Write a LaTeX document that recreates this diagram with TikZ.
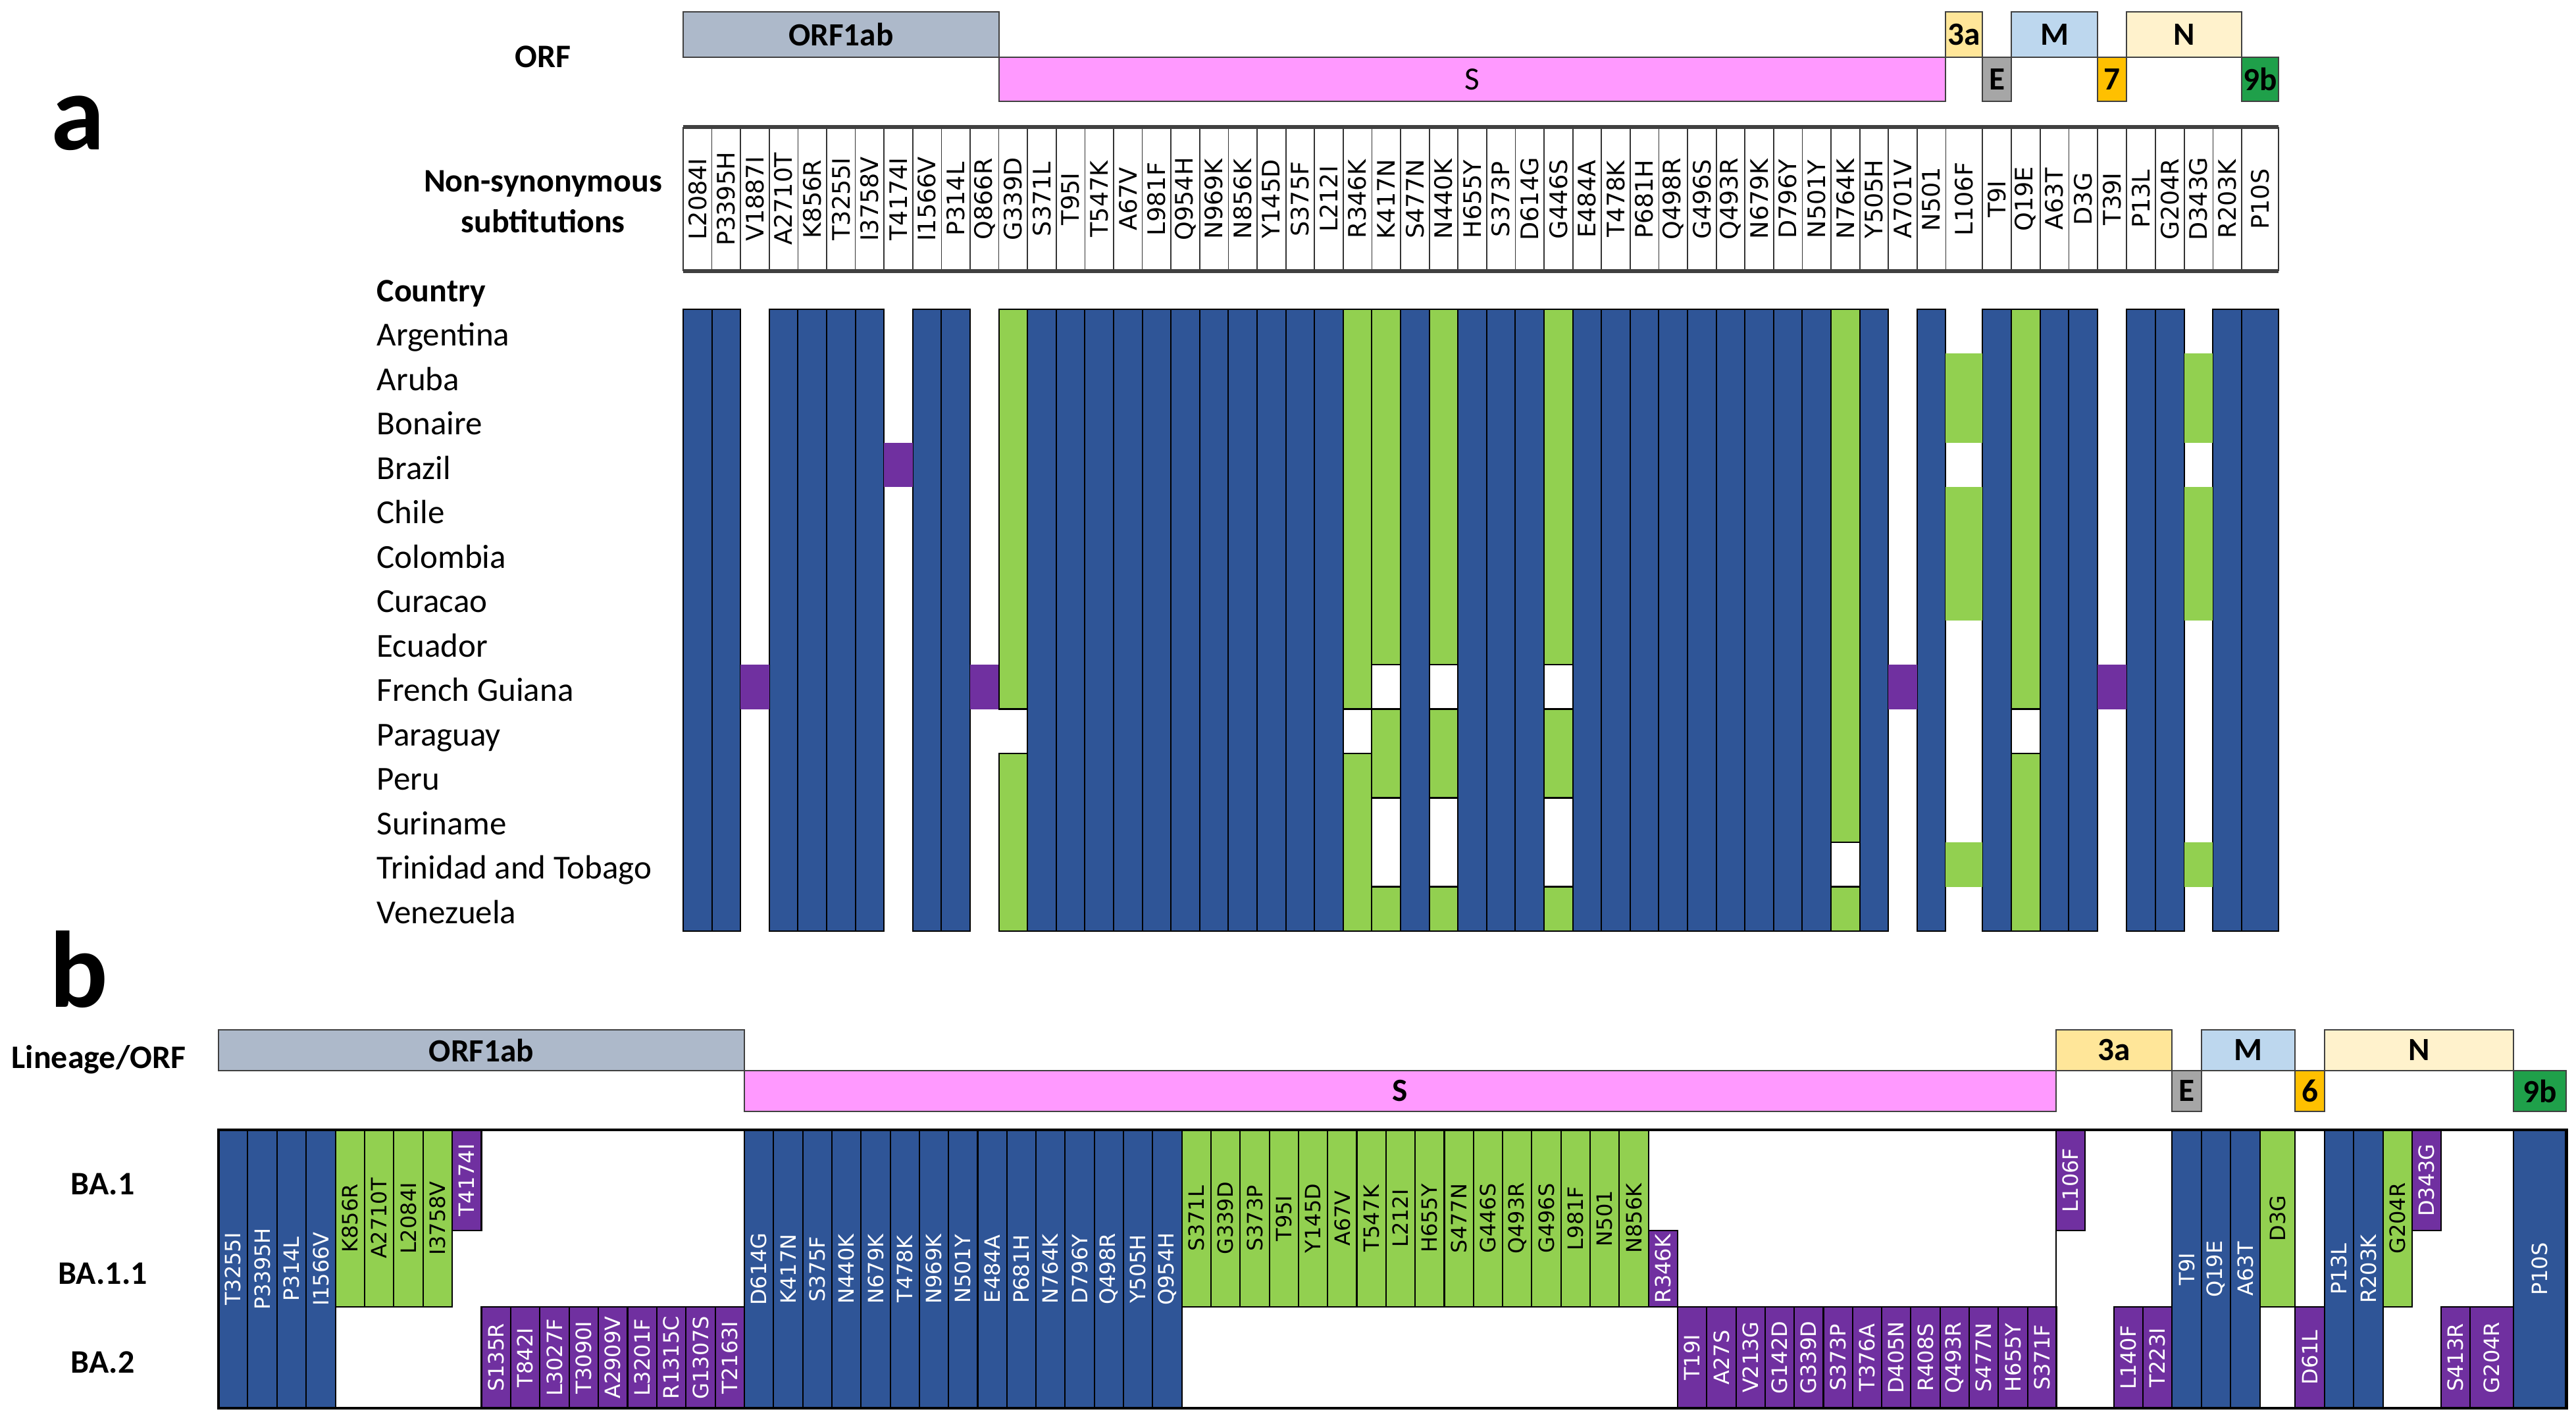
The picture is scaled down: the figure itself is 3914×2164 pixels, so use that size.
\documentclass[tikz,border=0pt]{standalone}
\usepackage{fontspec}
\setmainfont{Carlito}
\newfontfamily\dvs{DejaVu Sans}
\definecolor{cblue}{HTML}{2F5597}
\definecolor{cgreen}{HTML}{92D050}
\definecolor{cpurple}{HTML}{7030A0}
\definecolor{corf}{HTML}{ADB9CA}
\definecolor{cs}{HTML}{FF99FF}
\definecolor{cthree}{HTML}{FFE699}
\definecolor{ce}{HTML}{A6A6A6}
\definecolor{cm}{HTML}{BDD7EE}
\definecolor{cseven}{HTML}{FFC000}
\definecolor{cn}{HTML}{FFF2CC}
\definecolor{cnine}{HTML}{1FA04A}
\newcommand\myfs[1]{\fontsize{#1}{#1}\selectfont}
\newcommand\colxa[1]{%
  \pgfmathsetmacro\xl{ifthenelse(#1<=45, 1038+43.6*(#1-1), 3012+43.8*(#1-46))}%
  \pgfmathsetmacro\xr{ifthenelse(#1<=44, 1038+43.6*#1, ifthenelse(#1==45, 3012, ifthenelse(#1<=54, 3012+43.8*(#1-45), 3462)))}%
}
\newcommand\orfbox[7]{%
  \draw[barline, fill=#5] (#1,#2) rectangle (#3,#4);
  \node[bartext] (#6) at ({(#1+#3)/2},{(#2+#4)/2}) {#7};}
\newcommand\cellb[7]{%
  \pgfmathsetmacro\yt{ifthenelse(#3==1,1717,ifthenelse(#3==2,1870,1986))}%
  \pgfmathsetmacro\yb{ifthenelse(#4==1,1870,ifthenelse(#4==2,1986,2140))}%
  \path[#5] (#1,\yt) rectangle (#2,\yb);
  \node[blab, #5t] (#7) at ({(#1+#2)/2},{(\yt+\yb)/2}) {#6};}
\begin{document}
\begin{tikzpicture}[x=0.01cm,y=-0.01cm,
  barline/.style={draw=black!75, line width=0.8pt},
  bartext/.style={font=\bfseries\myfs{14}, inner sep=0pt},
  hdr/.style={rotate=90, font=\dvs\myfs{10.4}, inner sep=0pt},
  lbl/.style={font=\myfs{14.5}, anchor=base west, inner sep=0pt},
  blbl/.style={font=\bfseries\myfs{14.2}, inner sep=0pt},
  biglbl/.style={font=\bfseries\myfs{47}, inner sep=0pt, anchor=base},
  aB/.style={fill=cblue, draw=black, line width=0.6pt},
  aG/.style={fill=cgreen, draw=black, line width=0.6pt},
  ag/.style={fill=cgreen},
  aP/.style={fill=cpurple},
  cB/.style={fill=cblue, draw=black, line width=0.6pt},
  cG/.style={fill=cgreen, draw=black, line width=0.6pt},
  cP/.style={fill=cpurple, draw=black, line width=0.6pt},
  cBt/.style={text=white},
  cGt/.style={text=black},
  cPt/.style={text=white},
  blab/.style={rotate=90, font=\dvs\myfs{9.1}, inner sep=0pt}]
\useasboundingbox (0,0) rectangle (3914,2164);
\fill[white] (0,0) rectangle (3914,2164);

% ---------------- panel a ----------------
\node[biglbl] (la) at (118,228) {a};
\node[blbl] (orfa) at (825,86) {ORF};
\node[blbl, anchor=base] (ns1) at (825,292) {Non-synonymous};
\node[blbl, anchor=base] (ns2) at (825,354) {subtitutions};
\node[blbl, anchor=base west] (ctry) at (572,459) {Country};
\foreach \cn [count=\r] in {Argentina,Aruba,Bonaire,Brazil,Chile,Colombia,Curacao,Ecuador,French Guiana,Paraguay,Peru,Suriname,Trinidad and Tobago,Venezuela}
  \node[lbl] (cty\r) at (572,{470+67.5*(\r-0.5)+22}) {\cn};

\orfbox{1038}{18}{1518}{87}{corf}{aorf}{ORF1ab}
\orfbox{1518}{87}{2956}{154}{cs}{as}{\mdseries S}
\orfbox{2956}{18}{3012}{87}{cthree}{a3a}{3a}
\orfbox{3012}{87}{3056}{154}{ce}{ae}{E}
\orfbox{3056}{18}{3187}{87}{cm}{am}{M}
\orfbox{3187}{87}{3231}{154}{cseven}{a7}{7}
\orfbox{3231}{18}{3406}{87}{cn}{an}{N}
\orfbox{3406}{87}{3462}{154}{cnine}{a9b}{9b}

% header box
\draw[black!80, line width=0.5pt] (1038,193) -- (1038,412);
\foreach \lab [count=\k] in {L2084I,P3395H,V1887I,A2710T,K856R,T3255I,I3758V,T4174I,I1566V,P314L,Q866R,G339D,S371L,T95I,T547K,A67V,L981F,Q954H,N969K,N856K,Y145D,S375F,L212I,R346K,K417N,S477N,N440K,H655Y,S373P,D614G,G446S,E484A,T478K,P681H,Q498R,G496S,Q493R,N679K,D796Y,N501Y,N764K,Y505H,A701V,N501,L106F,T9I,Q19E,A63T,D3G,T39I,P13L,G204R,D343G,R203K,P10S}{
  \colxa{\k}
  \draw[black!80, line width=0.5pt] (\xr,193) -- (\xr,412);
  \node[hdr] (h\k) at ({(\xl+\xr)/2},302.5) {\lab};
}
\draw[black!75, line width=1.5pt] (1038,193) -- (3462,193);
\draw[black!75, line width=1.5pt] (1038,412) -- (3462,412);

% grid a
\foreach \c in {1,2,4,5,6,7,9,10,13,14,...,23,26,28,29,30,32,33,...,40,42,44,46,48,49,51,52,54,55}{
  \colxa{\c}
  \path[aB] (\xl,470) rectangle (\xr,1415);
}
\foreach \c/\a/\b/\s in {3/9/9/aP,8/4/4/aP,11/9/9/aP,43/9/9/aP,50/9/9/aP,
  12/1/9/aG,12/11/14/aG,24/1/9/aG,24/11/14/aG,
  25/1/8/aG,25/10/11/aG,25/14/14/aG,27/1/8/aG,27/10/11/aG,27/14/14/aG,
  31/1/8/aG,31/10/11/aG,31/14/14/aG,41/1/12/aG,41/14/14/aG,47/1/9/aG,47/11/14/aG,
  45/2/3/ag,45/5/7/ag,45/13/13/ag,53/2/3/ag,53/5/7/ag,53/13/13/ag}{
  \colxa{\c}
  \path[\s] (\xl,{470+67.5*(\a-1)}) rectangle (\xr,{470+67.5*\b});
}

% ---------------- panel b ----------------
\node[biglbl] (lb) at (120,1530) {b};
\node[blbl] (lin) at (150,1610) {Lineage/ORF};
\node[blbl] (ba1) at (156,1799) {BA.1};
\node[blbl] (ba11) at (156,1935) {BA.1.1};
\node[blbl] (ba2) at (156,2070) {BA.2};

\orfbox{332}{1565}{1131}{1627}{corf}{borf}{ORF1ab}
\orfbox{1131}{1627}{3124}{1689}{cs}{bs}{S}
\orfbox{3124}{1565}{3300}{1627}{cthree}{b3a}{3a}
\orfbox{3300}{1627}{3345}{1689}{ce}{be}{E}
\orfbox{3345}{1565}{3487}{1627}{cm}{bm}{M}
\orfbox{3487}{1627}{3532}{1689}{cseven}{b6}{6}
\orfbox{3532}{1565}{3819}{1627}{cn}{bn}{N}
\orfbox{3819}{1627}{3899}{1689}{cnine}{b9b}{9b}

% ORF1ab group
\foreach \lab [count=\i from 0] in {T3255I,P3395H,P314L,I1566V}{
  \pgfmathsetmacro\xa{332+44.39*\i}\pgfmathsetmacro\xb{\xa+44.39}
  \cellb{\xa}{\xb}{1}{3}{cB}{\lab}{p1b\i}}
\foreach \lab [count=\i from 4] in {K856R,A2710T,L2084I,I3758V}{
  \pgfmathsetmacro\xa{332+44.39*\i}\pgfmathsetmacro\xb{\xa+44.39}
  \cellb{\xa}{\xb}{1}{2}{cG}{\lab}{p1g\i}}
\foreach \lab [count=\i from 8] in {T4174I}{
  \pgfmathsetmacro\xa{332+44.39*\i}\pgfmathsetmacro\xb{\xa+44.39}
  \cellb{\xa}{\xb}{1}{1}{cP}{\lab}{p1p\i}}
\foreach \lab [count=\i from 9] in {S135R,T842I,L3027F,T3090I,A2909V,L3201F,R1315C,G1307S,T2163I}{
  \pgfmathsetmacro\xa{332+44.39*\i}\pgfmathsetmacro\xb{\xa+44.39}
  \cellb{\xa}{\xb}{3}{3}{cP}{\lab}{p1q\i}}
% S group
\foreach \lab [count=\i from 0] in {D614G,K417N,S375F,N440K,N679K,T478K,N969K,N501Y,E484A,P681H,N764K,D796Y,Q498R,Y505H,Q954H}{
  \pgfmathsetmacro\xa{1131+44.31*\i}\pgfmathsetmacro\xb{\xa+44.31}
  \cellb{\xa}{\xb}{1}{3}{cB}{\lab}{p2b\i}}
\foreach \lab [count=\i from 15] in {S371L,G339D,S373P,T95I,Y145D,A67V,T547K,L212I,H655Y,S477N,G446S,Q493R,G496S,L981F,N501,N856K}{
  \pgfmathsetmacro\xa{1131+44.31*\i}\pgfmathsetmacro\xb{\xa+44.31}
  \cellb{\xa}{\xb}{1}{2}{cG}{\lab}{p2g\i}}
\foreach \lab [count=\i from 31] in {R346K}{
  \pgfmathsetmacro\xa{1131+44.31*\i}\pgfmathsetmacro\xb{\xa+44.31}
  \cellb{\xa}{\xb}{2}{2}{cP}{\lab}{p2p\i}}
\foreach \lab [count=\i from 32] in {T19I,A27S,V213G,G142D,G339D,S373P,T376A,D405N,R408S,Q493R,S477N,H655Y,S371F}{
  \pgfmathsetmacro\xa{1131+44.31*\i}\pgfmathsetmacro\xb{\xa+44.31}
  \cellb{\xa}{\xb}{3}{3}{cP}{\lab}{p2q\i}}
% 3a, E, M, 6, N, 9b
\cellb{3124}{3168}{1}{1}{cP}{L106F}{p3a}
\cellb{3212}{3256}{3}{3}{cP}{L140F}{p3b}
\cellb{3256}{3300}{3}{3}{cP}{T223I}{p3c}
\cellb{3300}{3345}{1}{3}{cB}{T9I}{pe}
\cellb{3345}{3389}{1}{3}{cB}{Q19E}{pm1}
\cellb{3389}{3434}{1}{3}{cB}{A63T}{pm2}
\cellb{3434}{3487}{1}{2}{cG}{D3G}{pm3}
\cellb{3487}{3532}{3}{3}{cP}{D61L}{p6}
\cellb{3532}{3576}{1}{3}{cB}{P13L}{pn1}
\cellb{3576}{3621}{1}{3}{cB}{R203K}{pn2}
\cellb{3621}{3665}{1}{2}{cG}{G204R}{pn3}
\cellb{3665}{3709}{1}{1}{cP}{D343G}{pn4}
\cellb{3709}{3753}{3}{3}{cP}{S413R}{pn5}
\cellb{3753}{3819}{3}{3}{cP}{G204R}{pn6}
\cellb{3819}{3899}{1}{3}{cB}{P10S}{p9b}

\draw[black, line width=0.6pt] (3124,1717) -- (3124,2140);
\draw[black, line width=1.4pt] (332,1717) rectangle (3899,2140);
\end{tikzpicture}
\end{document}
